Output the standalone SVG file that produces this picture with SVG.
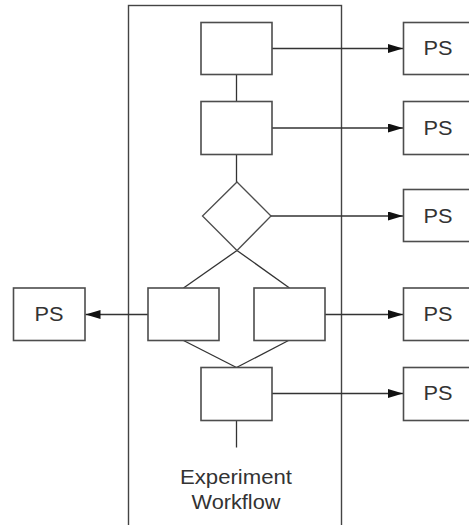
<svg xmlns="http://www.w3.org/2000/svg" width="469" height="525" viewBox="0 0 469 525">
<defs>
<style>
.box{fill:#fff;stroke:#4d4d4d;stroke-width:1.6}
.frame{fill:none;stroke:#444;stroke-width:1.4}
.con{fill:none;stroke:#333;stroke-width:1.3}
.lbl{font-family:"Liberation Sans",Arial,sans-serif;font-size:20px;fill:#333;text-anchor:middle}
</style>
<marker id="arr" markerUnits="userSpaceOnUse" markerWidth="16" markerHeight="10" refX="15" refY="4.5" orient="auto">
<path d="M0,0 L15,4.5 L0,9 Z" fill="#111"/>
</marker>
</defs>
<g id="workflow">
<rect class="frame" x="128.5" y="5.5" width="213" height="530"/>
<text class="lbl" x="236" y="484" textLength="112" lengthAdjust="spacingAndGlyphs">Experiment</text>
<text class="lbl" x="236" y="509" textLength="89" lengthAdjust="spacingAndGlyphs">Workflow</text>
</g>
<g id="connectors">
<line class="con" x1="236.5" y1="74.5" x2="236.5" y2="101.5"/>
<line class="con" x1="236.5" y1="154.5" x2="236.5" y2="182"/>
<line class="con" x1="237" y1="250.5" x2="183.5" y2="288"/>
<line class="con" x1="237" y1="250.5" x2="289.5" y2="288"/>
<line class="con" x1="183.5" y1="340.5" x2="236.5" y2="367.5"/>
<line class="con" x1="288.5" y1="340.5" x2="236.5" y2="367.5"/>
<line class="con" x1="236.5" y1="420.5" x2="236.5" y2="447.5"/>
<line class="con" x1="272" y1="48.5" x2="403" y2="48.5" marker-end="url(#arr)"/>
<line class="con" x1="272" y1="128" x2="403" y2="128" marker-end="url(#arr)"/>
<line class="con" x1="271" y1="216" x2="403" y2="216" marker-end="url(#arr)"/>
<line class="con" x1="325" y1="314.5" x2="403" y2="314.5" marker-end="url(#arr)"/>
<line class="con" x1="272" y1="393.5" x2="403" y2="393.5" marker-end="url(#arr)"/>
<line class="con" x1="148" y1="314.5" x2="85.5" y2="314.5" marker-end="url(#arr)"/>
</g>
<g id="step1"><rect class="box" x="201" y="22.5" width="71" height="52"/></g>
<g id="step2"><rect class="box" x="201" y="101.5" width="71" height="53"/></g>
<g id="decision"><path class="box" d="M237,182 L271,216 L237,250.5 L202.5,216 Z" style="stroke-width:1.3"/></g>
<g id="step3a"><rect class="box" x="148" y="288" width="71" height="52.5"/></g>
<g id="step3b"><rect class="box" x="254" y="288" width="71" height="52.5"/></g>
<g id="step4"><rect class="box" x="201" y="367.5" width="71" height="53"/></g>
<g id="ps1"><rect class="box" x="403.5" y="22.5" width="71" height="52"/><text class="lbl" x="438" y="55" textLength="29" lengthAdjust="spacingAndGlyphs">PS</text></g>
<g id="ps2"><rect class="box" x="403.5" y="101.5" width="71" height="53"/><text class="lbl" x="438" y="134.5" textLength="29" lengthAdjust="spacingAndGlyphs">PS</text></g>
<g id="ps3"><rect class="box" x="403.5" y="189.5" width="71" height="52"/><text class="lbl" x="438" y="222.5" textLength="29" lengthAdjust="spacingAndGlyphs">PS</text></g>
<g id="ps4"><rect class="box" x="403.5" y="288" width="71" height="52.5"/><text class="lbl" x="438" y="321" textLength="29" lengthAdjust="spacingAndGlyphs">PS</text></g>
<g id="ps5"><rect class="box" x="403.5" y="367.5" width="71" height="53"/><text class="lbl" x="438" y="400" textLength="29" lengthAdjust="spacingAndGlyphs">PS</text></g>
<g id="ps6"><rect class="box" x="13.5" y="288" width="71.5" height="52.5"/><text class="lbl" x="49" y="321" textLength="29" lengthAdjust="spacingAndGlyphs">PS</text></g>
</svg>
